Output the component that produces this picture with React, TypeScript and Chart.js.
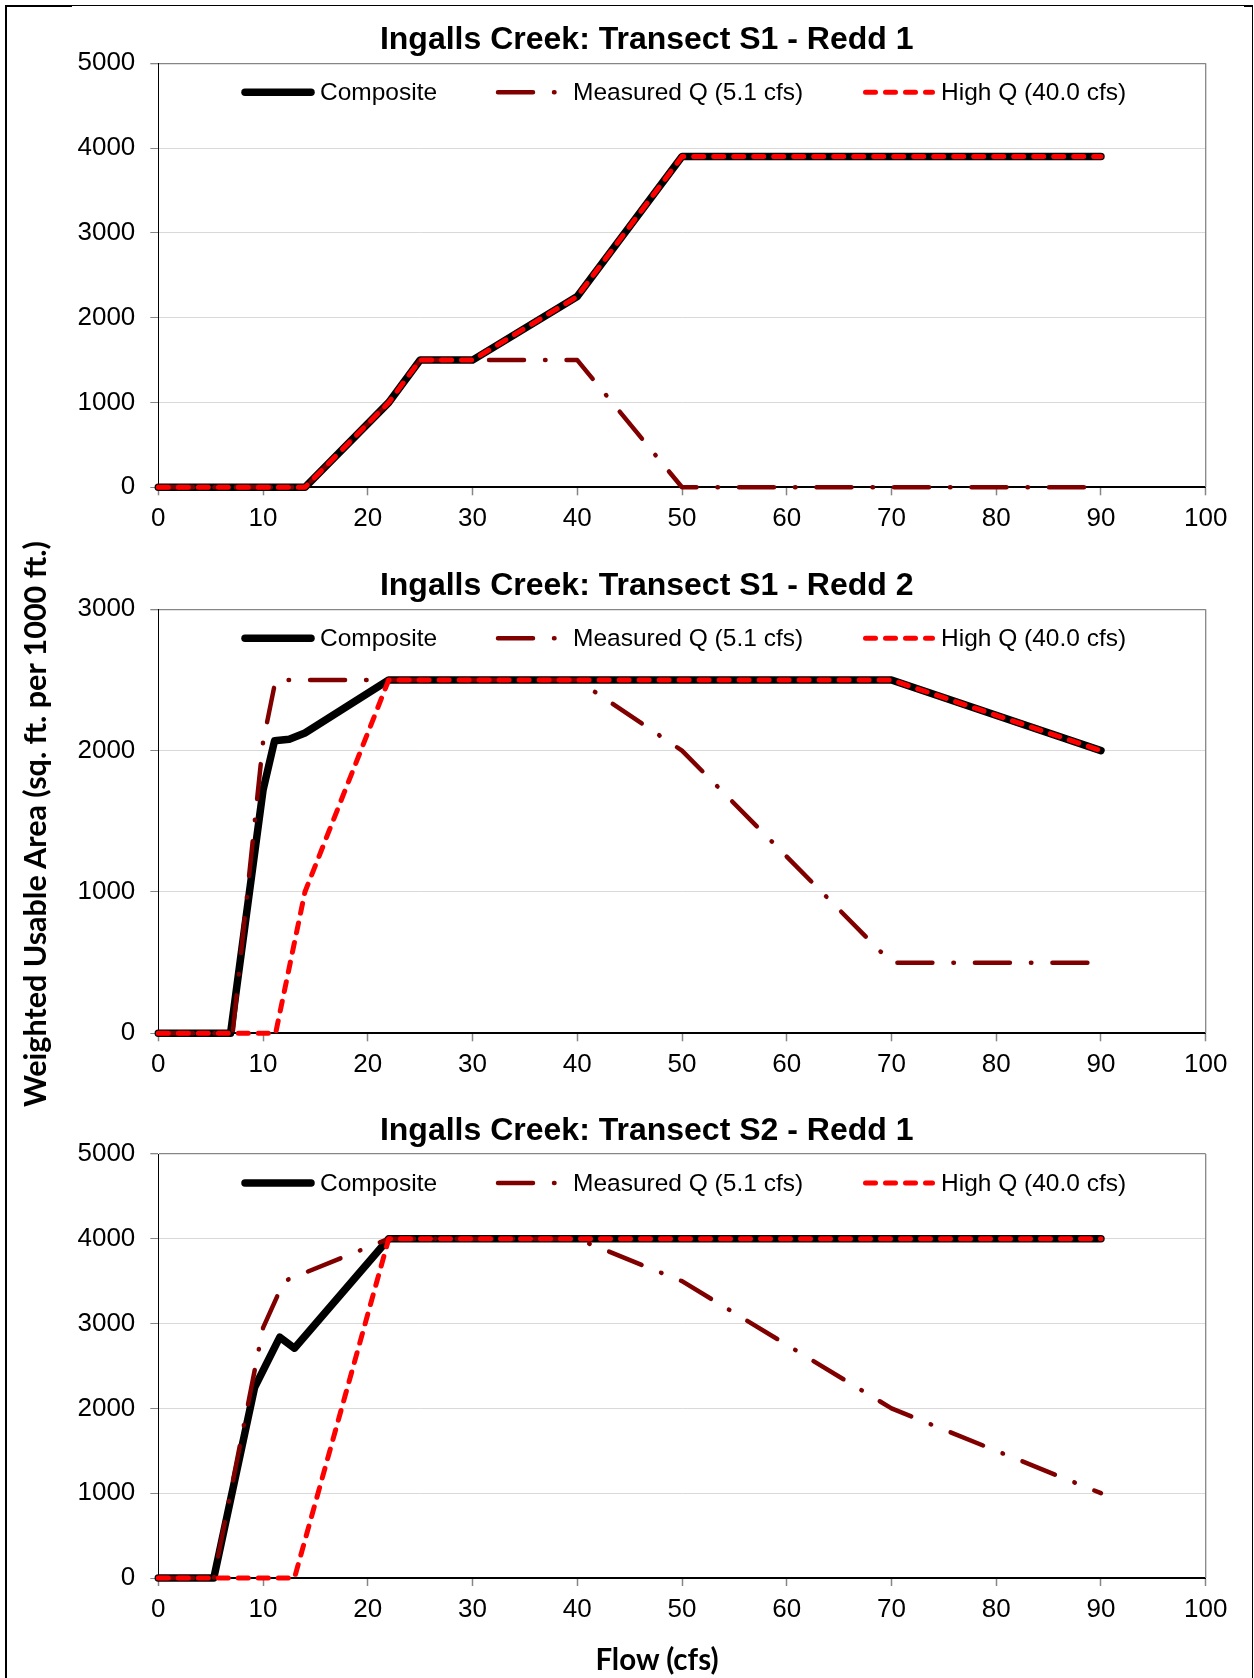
import React, { useEffect, useRef } from 'react';
import { Chart, registerables } from 'chart.js';

Chart.register(...registerables);

// ---------- DATA ----------
const seriesLabels = ['Composite', 'Measured Q (5.1 cfs)', 'High Q (40.0 cfs)'];
const chartTitles = [
  'Ingalls Creek: Transect S1 - Redd 1',
  'Ingalls Creek: Transect S1 - Redd 2',
  'Ingalls Creek: Transect S2 - Redd 1',
];
const yMaxes = [5000, 3000, 5000];
const xTickStep = 10;
const yTickStep = 1000;

// Transect S1 - Redd 1
const s1r1CompositeFlow = [0, 14, 22, 25, 30, 40, 50, 90];
const s1r1Composite = [0, 0, 1000, 1500, 1500, 2250, 3900, 3900];
const s1r1MeasuredFlow = [0, 14, 22, 25, 30, 40, 50, 90];
const s1r1Measured = [0, 0, 1000, 1500, 1500, 1500, 0, 0];
const s1r1HighFlow = [0, 14, 22, 25, 30, 40, 50, 90];
const s1r1High = [0, 0, 1000, 1500, 1500, 2250, 3900, 3900];

// Transect S1 - Redd 2
const s1r2CompositeFlow = [0, 6.9, 10, 11.1, 12.5, 14, 22, 40, 50, 70, 90];
const s1r2Composite = [0, 0, 1720, 2070, 2080, 2125, 2500, 2500, 2500, 2500, 2000];
const s1r2MeasuredFlow = [0, 7.1, 10, 11.2, 22, 40, 50, 70, 90];
const s1r2Measured = [0, 0, 2060, 2500, 2500, 2500, 2000, 500, 500];
const s1r2HighFlow = [0, 11.2, 14, 22, 40, 50, 70, 90];
const s1r2High = [0, 0, 1000, 2500, 2500, 2500, 2500, 2000];

// Transect S2 - Redd 1
const s2r1CompositeFlow = [0, 5.3, 9.2, 11.6, 13, 22, 40, 50, 70, 90];
const s2r1Composite = [0, 0, 2250, 2840, 2710, 4000, 4000, 4000, 4000, 4000];
const s2r1MeasuredFlow = [0, 5.3, 10, 12, 22, 40, 50, 70, 90];
const s2r1Measured = [0, 0, 2950, 3500, 4000, 4000, 3500, 2000, 1000];
const s2r1HighFlow = [0, 13, 22, 40, 50, 70, 90];
const s2r1High = [0, 0, 4000, 4000, 4000, 4000, 4000];

// ---------- STYLE ----------
const ARIAL = '"Liberation Sans", Arial, Helvetica, sans-serif';
const CALIBRI = 'Lato, "Open Sans", sans-serif';
const W = 1254;
const H = 1678;

const pts = (xs: number[], ys: number[]) => xs.map((x, i) => ({ x, y: ys[i] }));

const makeDatasets = (cx: number[], cy: number[], mx: number[], my: number[], hx: number[], hy: number[]) => [
  {
    label: seriesLabels[0],
    data: pts(cx, cy),
    borderColor: '#000000',
    borderWidth: 7.5,
    borderCapStyle: 'round',
    borderJoinStyle: 'round',
    pointRadius: 0,
    tension: 0,
    clip: false,
    order: 3,
  },
  {
    label: seriesLabels[1],
    data: pts(mx, my),
    borderColor: '#800000',
    borderWidth: 4.5,
    borderDash: [35, 21, 0.5, 21],
    borderCapStyle: 'round',
    borderJoinStyle: 'round',
    pointRadius: 0,
    tension: 0,
    clip: false,
    order: 2,
  },
  {
    label: seriesLabels[2],
    data: pts(hx, hy),
    borderColor: '#FF0000',
    borderWidth: 5,
    borderDash: [10, 10],
    borderCapStyle: 'round',
    borderJoinStyle: 'round',
    pointRadius: 0,
    tension: 0,
    clip: false,
    order: 1,
  },
];

const panels = [
  {
    canvasTop: 0, canvasH: 545, plotTop: 63.3, title: chartTitles[0], yMax: yMaxes[0],
    datasets: makeDatasets(s1r1CompositeFlow, s1r1Composite, s1r1MeasuredFlow, s1r1Measured, s1r1HighFlow, s1r1High),
  },
  {
    canvasTop: 545, canvasH: 545, plotTop: 609.3, title: chartTitles[1], yMax: yMaxes[1],
    datasets: makeDatasets(s1r2CompositeFlow, s1r2Composite, s1r2MeasuredFlow, s1r2Measured, s1r2HighFlow, s1r2High),
  },
  {
    canvasTop: 1090, canvasH: 588, plotTop: 1154, title: chartTitles[2], yMax: yMaxes[2],
    datasets: makeDatasets(s2r1CompositeFlow, s2r1Composite, s2r1MeasuredFlow, s2r1Measured, s2r1HighFlow, s2r1High),
  },
];

const PLOT_H = 424;
const PLOT_LEFT = 158.3;
const PLOT_RIGHT = 1205.7;
const Y_AXIS_W = 100;
const X_AXIS_H = 50;

// legend layout (sample start, sample end, text x)
const legendLayout = [
  [245, 311, 320],
  [498, 570, 573],
  [865.5, 932.5, 941],
];

const decorPlugin = {
  id: 'decor',
  beforeDatasetsDraw(chart: any) {
    const { ctx, chartArea: a } = chart;
    ctx.save();
    ctx.strokeStyle = '#868686';
    ctx.lineWidth = 1.3;
    ctx.beginPath();
    ctx.moveTo(a.right, a.top);
    ctx.lineTo(a.right, a.bottom);
    ctx.stroke();
    ctx.restore();
  },
  afterDatasetsDraw(chart: any, _args: any, opts: any) {
    const { ctx, chartArea: a } = chart;
    ctx.save();
    // title
    ctx.fillStyle = '#000';
    ctx.font = `bold 32px ${ARIAL}`;
    ctx.textAlign = 'center';
    ctx.textBaseline = 'alphabetic';
    ctx.fillText(opts.title, 646.7, a.top - 14);
    // legend
    const ly = a.top + 29;
    chart.data.datasets.forEach((ds: any, i: number) => {
      const [x0, x1, tx] = legendLayout[i];
      ctx.save();
      ctx.strokeStyle = ds.borderColor;
      ctx.lineWidth = ds.borderWidth;
      ctx.lineCap = 'round';
      ctx.setLineDash(ds.borderDash || []);
      ctx.beginPath();
      ctx.moveTo(x0, ly);
      ctx.lineTo(x1, ly);
      ctx.stroke();
      ctx.restore();
      ctx.fillStyle = '#000';
      ctx.font = `24.5px ${ARIAL}`;
      ctx.textAlign = 'left';
      ctx.textBaseline = 'alphabetic';
      ctx.fillText(ds.label, tx, ly + 8);
    });
    ctx.restore();
  },
};

function Panel({ p }: { p: any }) {
  const ref = useRef<HTMLCanvasElement>(null);
  useEffect(() => {
    if (!ref.current) return;
    const padTop = p.plotTop - p.canvasTop;
    const padBottom = p.canvasTop + p.canvasH - (p.plotTop + PLOT_H) - X_AXIS_H;
    const chart = new Chart(ref.current, {
      type: 'line',
      data: { datasets: p.datasets },
      plugins: [decorPlugin],
      options: {
        animation: false,
        responsive: false,
        events: [],
        layout: {
          padding: {
            top: padTop,
            bottom: padBottom,
            left: PLOT_LEFT - Y_AXIS_W,
            right: W - PLOT_RIGHT,
          },
        },
        plugins: {
          legend: { display: false },
          title: { display: false },
          tooltip: { enabled: false },
          decor: { title: p.title },
        } as any,
        scales: {
          x: {
            type: 'linear',
            min: 0,
            max: 100,
            afterFit: (s: any) => { s.height = X_AXIS_H; },
            ticks: {
              stepSize: xTickStep,
              autoSkip: false,
              maxRotation: 0,
              padding: 8,
              color: '#000',
              font: { family: ARIAL, size: 26 },
              callback: (v: any) => String(v),
            },
            grid: {
              display: true,
              drawOnChartArea: false,
              drawTicks: true,
              tickLength: 8,
              tickColor: '#868686',
              tickWidth: 1.5,
            },
            border: { display: true, color: '#000', width: 2 },
          },
          y: {
            type: 'linear',
            min: 0,
            max: p.yMax,
            afterFit: (s: any) => { s.width = Y_AXIS_W; },
            ticks: {
              stepSize: yTickStep,
              padding: 15,
              color: '#000',
              font: { family: ARIAL, size: 26 },
              callback: (v: any) => String(v),
            },
            grid: {
              drawTicks: true,
              tickLength: 8,
              tickColor: '#868686',
              color: (c: any) => (c.tick && c.tick.value === p.yMax ? '#868686' : '#D9D9D9'),
              lineWidth: (c: any) => (c.tick && c.tick.value === p.yMax ? 1.3 : 1),
            },
            border: { display: true, color: '#000', width: 1 },
          },
        },
      } as any,
    });
    return () => chart.destroy();
  }, []);
  return (
    <canvas
      ref={ref}
      width={W}
      height={p.canvasH}
      style={{ position: 'absolute', left: 0, top: p.canvasTop, width: W, height: p.canvasH }}
    />
  );
}

export default function App() {
  return (
    <div style={{ position: 'absolute', left: 0, top: 0, width: W, height: H, overflow: 'hidden', background: '#fff' }}>
      <div
        style={{
          position: 'absolute', left: 5, top: 5, width: 1248, height: 1720, boxSizing: 'border-box',
          borderLeft: '2px solid #000', borderTop: '1px solid #000', borderRight: '1px solid #000',
        }}
      />
      <div style={{ position: 'absolute', left: 5, top: 5, width: 67, height: 2, background: '#000' }} />
      <div style={{ position: 'absolute', left: 1244, top: 5, width: 9, height: 2, background: '#000' }} />
      {panels.map((p, i) => (
        <Panel key={i} p={p} />
      ))}
      <div
        style={{
          position: 'absolute', left: 35.5 - 400, top: 823.7 - 20, width: 800, height: 40,
          lineHeight: '40px', textAlign: 'center', whiteSpace: 'nowrap', transform: 'rotate(-90deg)',
          font: `bold 30.5px ${CALIBRI}`, color: '#000',
        }}
      >
        Weighted Usable Area (sq. ft. per 1000 ft.)
      </div>
      <div
        style={{
          position: 'absolute', left: 657 - 200, top: 1641, width: 400, height: 30,
          lineHeight: '30px', textAlign: 'center', whiteSpace: 'nowrap',
          font: `bold 29.5px ${CALIBRI}`, color: '#000',
        }}
      >
        Flow (cfs)
      </div>
    </div>
  );
}
